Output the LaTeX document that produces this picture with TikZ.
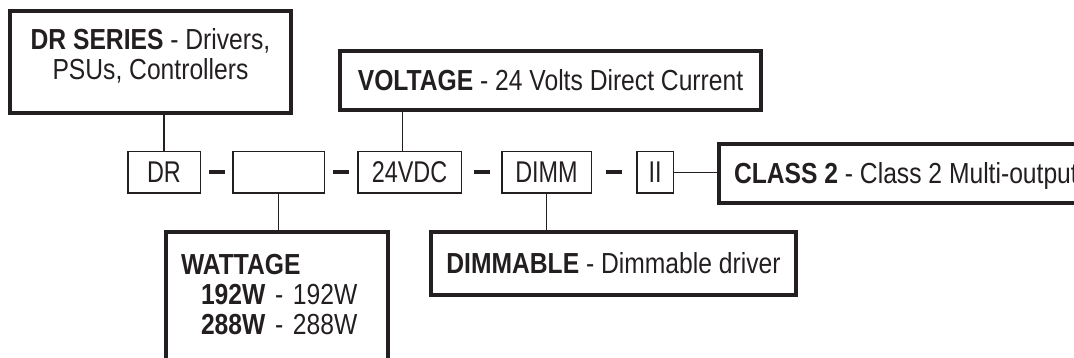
\documentclass[tikz,border=0pt]{standalone}
\usepackage{fontspec}
\setmainfont{Liberation Sans}
\newfontfamily\labelfont[FakeStretch=0.85]{Liberation Sans}
\newfontfamily\codefont[FakeStretch=0.78]{Liberation Sans}
\definecolor{ink}{HTML}{231F20}

\begin{document}
\begin{tikzpicture}[x=1pt,y=-1pt,color=ink,
        infobox/.style={draw,line width=4pt,inner sep=0pt,font=\labelfont\fontsize{29}{30}\selectfont},
        oneline/.style={text height=20.8pt,text depth=0pt},
        codebox/.style={draw,line width=1.5pt,minimum height=41.5pt,inner sep=0pt,font=\codefont\fontsize{30}{36}\selectfont},
        sepbar/.style={fill,minimum width=16pt,minimum height=4pt,inner sep=0pt},
        link/.style={line width=1.5pt}]
        \useasboundingbox (0,0) rectangle (1074,358);

        % code boxes
        \node[codebox,minimum width=72.5pt] (dr) at (164,172.5) {DR};
        \node[codebox,minimum width=91.5pt] (wt) at (278.5,172.5) {};
        \node[codebox,minimum width=103.5pt] (vdc) at (409.5,172.5) {24VDC};
        \node[codebox,minimum width=89.5pt] (dim) at (546.5,172.5) {DIMM};
        \node[codebox,minimum width=36.5pt] (cl) at (655,172.5) {II};

        \path (dr.east) -- node[sepbar] (s1) {} (wt.west);
        \path (wt.east) -- node[sepbar] (s2) {} (vdc.west);
        \path (vdc.east) -- node[sepbar] (s3) {} (dim.west);
        \path (dim.east) -- node[sepbar] (s4) {} (cl.west);

        % explanation boxes
        \node[infobox,minimum width=281pt,minimum height=102pt,align=center,text depth=16.8pt] (sr) at (150.5,62)
            {\textbf{DR SERIES} - Drivers,\\PSUs, Controllers};
        \node[infobox,oneline,minimum width=421pt,minimum height=59pt] (vo) at (550.5,80.5)
            {\textbf{VOLTAGE} - 24 Volts Direct Current};
        \node[infobox,oneline,minimum height=59pt,inner xsep=15pt,anchor=west] (c2) at (717,173.5)
            {\textbf{CLASS 2} - Class 2 Multi-output};
        \node[infobox,oneline,minimum width=365pt,minimum height=63pt] (dmb) at (613.5,263.5)
            {\textbf{DIMMABLE} - Dimmable driver};
        \node[infobox,text width=192pt,align=left,inner xsep=15pt,inner ysep=22pt,text depth=95pt,anchor=north west] (wa) at (164,230)
            {\textbf{WATTAGE}\\\hspace*{20pt}\textbf{192W} - 192W\\\hspace*{20pt}\textbf{288W} - 288W};

        % connectors
        \draw[link] (dr.north) -- (dr.north |- sr.south);
        \draw[link] ([xshift=-7pt]vdc.north) -- ([xshift=-7pt]vdc.north |- vo.south);
        \draw[link] (wt.south) -- (wt.south |- wa.north);
        \draw[link] (dim.south) -- (dim.south |- dmb.north);
        \draw[link] (cl.east) -- (cl.east -| c2.west);
\end{tikzpicture}
\end{document}
